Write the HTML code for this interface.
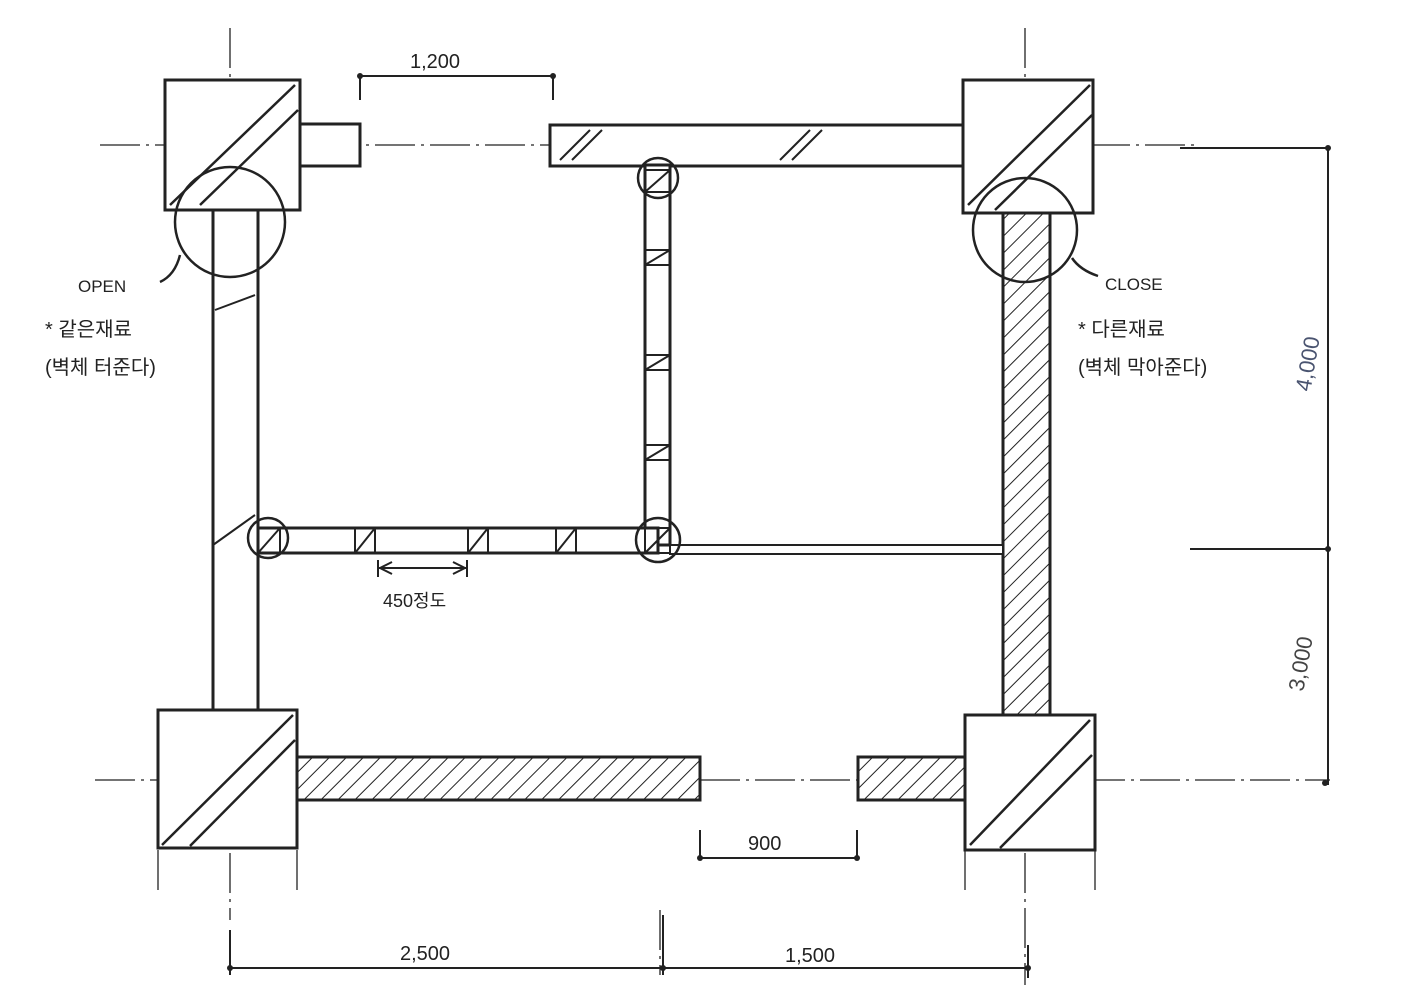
<!DOCTYPE html>
<html><head><meta charset="utf-8"><style>
html,body{margin:0;padding:0;background:#fff;}
svg{display:block;}
text{font-family:"Liberation Sans","Noto Sans CJK KR",sans-serif;fill:#222;}
</style></head><body>
<svg width="1407" height="996" viewBox="0 0 1407 996" xmlns="http://www.w3.org/2000/svg">
<defs>
<pattern id="h" patternUnits="userSpaceOnUse" width="12" height="12" patternTransform="rotate(45)">
<rect width="12" height="12" fill="#fff"/><line x1="0" y1="0" x2="0" y2="12" stroke="#222" stroke-width="2"/>
</pattern>
</defs>
<g stroke="#222" fill="none">
<!-- axis lines -->
<g stroke-width="1.3" stroke-dasharray="40 6 3 6">
<line x1="230" y1="28" x2="230" y2="920"/>
<line x1="1025" y1="28" x2="1025" y2="985"/>
<line x1="100" y1="145" x2="1195" y2="145"/>
<line x1="95" y1="780" x2="1330" y2="780"/>
<line x1="660" y1="910" x2="660" y2="975"/>
<line x1="158" y1="850" x2="158" y2="890"/>
<line x1="297" y1="850" x2="297" y2="890"/>
<line x1="965" y1="850" x2="965" y2="890"/>
<line x1="1095" y1="850" x2="1095" y2="890"/>
</g>
<g stroke-width="3" fill="#fff">
<!-- walls -->
<rect x="213" y="208" width="45" height="504"/>
<rect x="1003" y="211" width="47" height="506" fill="url(#h)"/>
<rect x="300" y="124" width="60" height="42"/>
<rect x="550" y="125" width="413" height="41"/>
<rect x="297" y="757" width="403" height="43" fill="url(#h)"/>
<rect x="858" y="757" width="107" height="43" fill="url(#h)"/>
<rect x="645" y="165" width="25" height="380"/>
<rect x="258" y="528" width="400" height="25"/>
<rect x="670" y="545" width="333" height="9" stroke-width="2"/>
<!-- columns -->
<rect x="165" y="80" width="135" height="130"/>
<rect x="963" y="80" width="130" height="133"/>
<rect x="158" y="710" width="139" height="138"/>
<rect x="965" y="715" width="130" height="135"/>
</g>
<!-- column diagonals -->
<g stroke-width="2.5">
<line x1="170" y1="205" x2="295" y2="85"/><line x1="200" y1="205" x2="298" y2="110"/>
<line x1="968" y1="205" x2="1090" y2="85"/><line x1="995" y1="210" x2="1092" y2="115"/>
<line x1="162" y1="845" x2="293" y2="715"/><line x1="190" y1="846" x2="295" y2="740"/>
<line x1="970" y1="845" x2="1090" y2="720"/><line x1="1000" y1="848" x2="1092" y2="755"/>
</g>
<!-- small hatched squares on partitions -->
<g stroke-width="2">
<rect x="645" y="170" width="25" height="22"/><line x1="645" y1="192" x2="670" y2="170"/>
<rect x="645" y="250" width="25" height="15"/><line x1="645" y1="265" x2="670" y2="250"/>
<rect x="645" y="355" width="25" height="15"/><line x1="645" y1="370" x2="670" y2="355"/>
<rect x="645" y="445" width="25" height="15"/><line x1="645" y1="460" x2="670" y2="445"/>
<rect x="645" y="528" width="25" height="25"/><line x1="645" y1="553" x2="670" y2="528"/>
<rect x="258" y="528" width="22" height="25"/><line x1="258" y1="553" x2="280" y2="528"/>
<rect x="355" y="528" width="20" height="25"/><line x1="355" y1="553" x2="375" y2="528"/>
<rect x="468" y="528" width="20" height="25"/><line x1="468" y1="553" x2="488" y2="528"/>
<rect x="556" y="528" width="20" height="25"/><line x1="556" y1="553" x2="576" y2="528"/>
<line x1="560" y1="160" x2="590" y2="130"/><line x1="572" y1="160" x2="602" y2="130"/>
<line x1="780" y1="160" x2="810" y2="130"/><line x1="792" y1="160" x2="822" y2="130"/>
<line x1="215" y1="310" x2="255" y2="295"/><line x1="213" y1="545" x2="255" y2="515"/>
</g>
<!-- circles -->
<g stroke-width="2.5">
<circle cx="230" cy="222" r="55"/>
<circle cx="1025" cy="230" r="52"/>
<circle cx="658" cy="178" r="20"/>
<circle cx="268" cy="538" r="20"/>
<circle cx="658" cy="540" r="22"/>
<path d="M160 282 Q175 275 180 255"/>
<path d="M1098 276 Q1080 270 1072 258"/>
</g>
<!-- dimensions -->
<g stroke-width="2">
<polyline points="360,100 360,76 553,76 553,100"/>
<polyline points="700,830 700,858 857,858 857,830"/>
<line x1="230" y1="968" x2="1028" y2="968"/>
<line x1="230" y1="930" x2="230" y2="975"/><line x1="663" y1="915" x2="663" y2="975"/><line x1="1028" y1="945" x2="1028" y2="978"/>
<line x1="1328" y1="148" x2="1328" y2="785"/>
<line x1="1190" y1="549" x2="1330" y2="549"/>
<line x1="1180" y1="148" x2="1330" y2="148"/>
<line x1="378" y1="568" x2="467" y2="568"/>
<line x1="378" y1="560" x2="378" y2="577"/><line x1="467" y1="560" x2="467" y2="577"/>
<path d="M380 568 l12 -6 M380 568 l12 6 M465 568 l-12 -6 M465 568 l-12 6"/>
</g>
<g fill="#222" stroke="none">
<circle cx="360" cy="76" r="3"/><circle cx="553" cy="76" r="3"/>
<circle cx="700" cy="858" r="3"/><circle cx="857" cy="858" r="3"/>
<circle cx="230" cy="968" r="3"/><circle cx="663" cy="968" r="3"/><circle cx="1028" cy="968" r="3"/>
<circle cx="1328" cy="148" r="3"/><circle cx="1328" cy="549" r="3"/><circle cx="1325" cy="783" r="3"/>
</g>
</g>
<text x="410" y="68" font-size="20">1,200</text>
<text x="748" y="850" font-size="20">900</text>
<text x="400" y="960" font-size="20">2,500</text>
<text x="785" y="962" font-size="20">1,500</text>
<text transform="translate(1315,365) rotate(-80)" text-anchor="middle" font-size="22" style="fill:#4a5470">4,000</text>
<text transform="translate(1308,665) rotate(-80)" text-anchor="middle" font-size="22" style="fill:#444">3,000</text>
<text x="78" y="292" font-size="17">OPEN</text>
<text x="45" y="336" font-size="20">* 같은재료</text>
<text x="45" y="374" font-size="20">(벽체 터준다)</text>
<text x="1105" y="290" font-size="17">CLOSE</text>
<text x="1078" y="336" font-size="20">* 다른재료</text>
<text x="1078" y="374" font-size="20">(벽체 막아준다)</text>
<text x="383" y="607" font-size="18">450정도</text>
</svg>
</body></html>
